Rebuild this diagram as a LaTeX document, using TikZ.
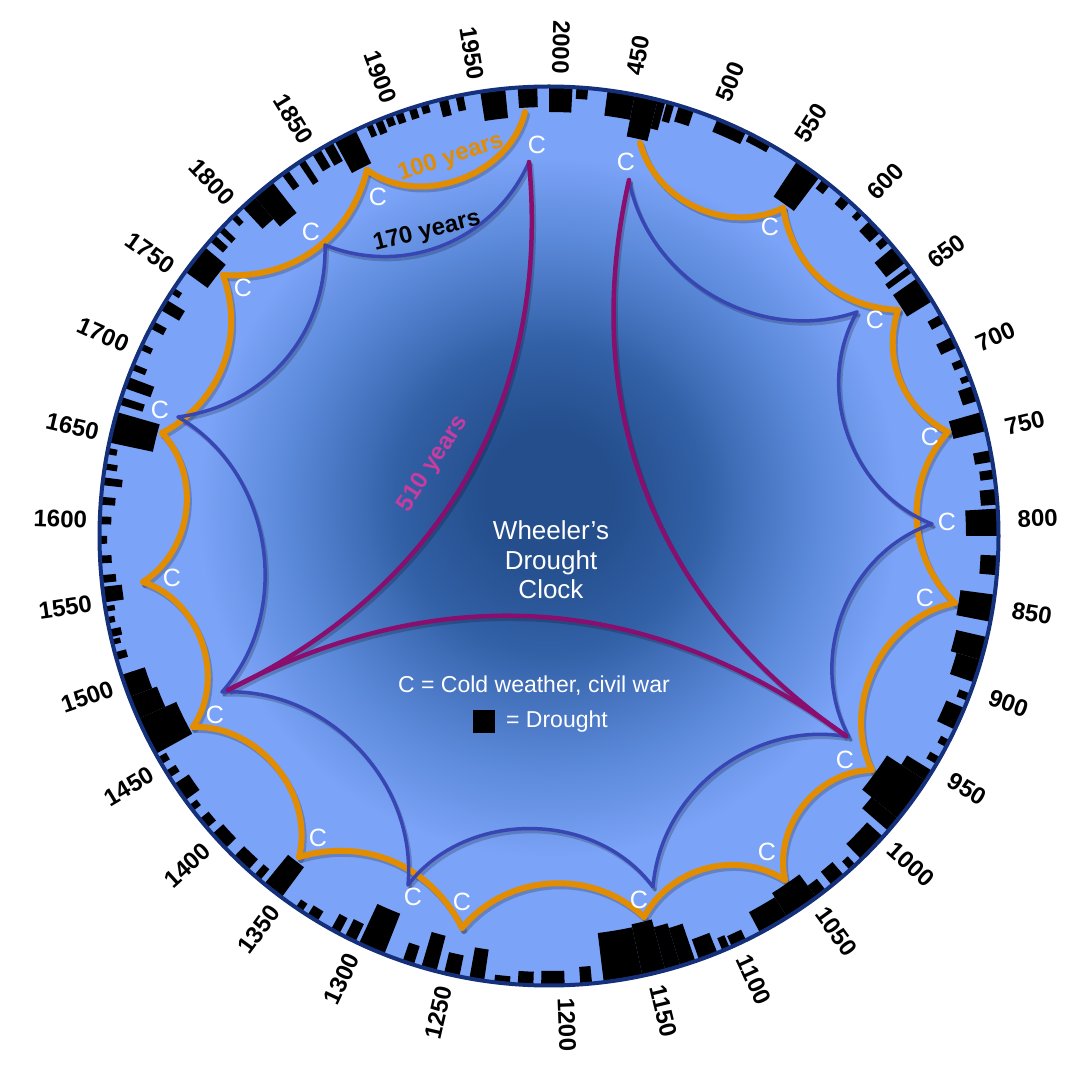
\documentclass[tikz,border=0pt]{standalone}
\usepackage{fontspec}
\setmainfont{Liberation Sans}
\usetikzlibrary{calc}
\definecolor{cdark}{RGB}{36,78,140}
\definecolor{cdarkb}{RGB}{50,96,166}
\definecolor{cmid}{RGB}{90,136,216}
\definecolor{clight}{RGB}{123,163,247}
\definecolor{corange}{RGB}{226,140,0}
\definecolor{cblue}{RGB}{55,70,178}
\definecolor{cpurple}{RGB}{138,14,110}
\definecolor{cpink}{RGB}{200,60,160}
\definecolor{cnavy}{RGB}{20,48,122}
\pgfdeclareradialshading{clockbg}{\pgfpoint{0bp}{2.6bp}}{color(0bp)=(cdark); color(3.5bp)=(cdark); color(8.5bp)=(cdarkb); color(14.5bp)=(cmid); color(19.5bp)=(clight); color(50bp)=(clight)}
\tikzset{
  yearlab/.style={font=\fontsize{24}{24}\selectfont\bfseries, inner sep=0pt},
  clab/.style={font=\fontsize{25}{25}\selectfont, text=white, inner sep=0pt},
  oline/.style={draw=corange, line width=6pt, line cap=round},
  bline/.style={draw=cblue, line width=3.5pt, line cap=round},
  pline/.style={draw=cpurple, line width=4.5pt, line cap=round},
  shline/.style={draw=black, draw opacity=0.2},
  wtitle/.style={font=\fontsize{26}{26}\selectfont, text=white, inner sep=0pt, anchor=base},
  wleg/.style={font=\fontsize{23}{23}\selectfont, text=white, inner sep=0pt, anchor=base},
  arclab/.style={font=\fontsize{24}{24}\selectfont\bfseries, inner sep=0pt},
}
\begin{document}
\begin{tikzpicture}[x=1pt,y=1pt]
\useasboundingbox (0,0) rectangle (1088,1080);
\fill[white] (0,0) rectangle (1088,1080);
\begin{scope}[shift={(549,544)}]
  \shade[shading=clockbg] (0,0) circle[radius=449];
  \foreach \a/\b/\d in {94/91.5/21, 90/87/26, 86.5/85/12, 82.5/79/26, 79/76/43, 76/75/30, 74.8/73.8/20, 73.2/71.2/17, 68/64/14, 63.5/60.5/9,
    56.5/53/43, 52.5/51.3/12, 49.3/48/12, 46.5/45.7/10, 44.5/42.5/15, 41.8/40.8/12, 40/37.5/25, 36.8/36/30, 35/31.5/30, 29.5/28.3/15, 26.3/24.8/18,
    23.2/22.2/12, 21/20.2/10, 19.5/17.5/16, 16/13.5/34, 11/9.5/18, 8.5/7.3/15, 6/4/17, 3.5/0/33, -2.5/-5/18, -7.5/-11/35, -13/-16/32,
    -16/-19/26, -20.5/-21.5/12, -22.5/-25.5/20, -27/-28/10, -29.5/-30.5/12, -31.5/-33/30, -33/-39/47, -39/-41/35, -42/-46/22, -47/-48/12, -49/-51/18, -52/-53.5/15, -53.5/-58/29,
    -58/-62/24, -64/-66/12, -66.3/-67.3/14, -68/-70.5/22, -71/-73/40, -73/-75/45, -75/-78/53, -78/-83/50, -84.5/-86/18, -88/-91/15,
    -92/-94/14, -95/-97/8, -98.3/-100.2/32, -101.5/-103.5/22, -104.5/-106.5/37, -107.5/-109/20, -111.5/-115/44, -115.5/-117/20, -117.8/-119/18, -121/-122.5/12,
    -123.3/-124.3/10, -126.5/-129.3/38, -130/-131/15, -132/-134.5/15, -136/-138.5/15, -139.5/-141/12, -142.3/-143.2/10, -144/-146.5/18, -147.5/-148.5/12, -149.5/-150.5/10, -151/-156/42, -156/-159/30,
    -159/-162/25, -164/-165/12, -166/-166.7/9, -167/-168/12, -168.8/-169.6/8, -170.3/-171/10, -171.5/-173.5/20, -174/-175/15, -176.5/-177.5/12, -179/-180/8, 178.5/177.5/12, 176/175/15,
    173.5/172.5/20, 171.5/170.7/13, 169.5/168.7/10, 168/164/45, 163/162/25, 160.8/159.3/28, 158.3/157.5/15, 155.5/154.7/12, 152.5/151.5/15, 149.8/148.3/22, 147.3/146.5/10,
    144/140/28, 139/138/18, 137.3/136.5/18, 135/134.2/12, 133/131/30, 131/128/40, 126.5/125.5/20, 123.9/123/27, 121.8/120.6/21, 120.1/118.8/22,
    118.5/115.5/37, 114/113.2/14, 112.8/111.8/15, 111.4/110.4/11, 110/109/12, 108.2/107.2/12, 106.6/105.6/10, 104.2/103/18, 102/101/16, 98.8/95.6/30}
    \fill[black] (\a:450) arc[start angle=\a, end angle=\b, radius=450] -- (\b:{450-\d}) arc[start angle=\b, end angle=\a, radius={450-\d}] -- cycle;
  \draw[cnavy, line width=4pt] (0,0) circle[radius=449.5];
  \foreach \yr/\ang/\rot in {450/79.5/79.5, 500/68.2/68.2, 550/57.6/57.6, 600/46.5/46.5, 650/35.6/35.6, 700/24.1/24.1, 750/13.4/13.4, 800/2.1/2.1,
    850/-9.1/-9.1, 900/-20/-20, 950/-31.2/-31.2, 1000/-42.2/-42.2, 1050/-54/-54, 1100/-65.2/-65.2, 1150/-76.4/-76.4, 1200/-87.9/-87.9,
    1250/256.9/76.9, 1300/244.9/64.9, 1350/233.6/53.6, 1400/222.3/42.3, 1450/210.8/30.8, 1500/199.2/19.2, 1550/188.4/8.4, 1600/178/-2,
    1650/167/-13, 1700/155.7/-24.3, 1750/144.6/-35.4, 1800/133.6/-46.4, 1850/121.5/-58.5, 1900/110.2/-69.8, 1950/99.1/-80.9, 2000/88.6/-91.4}
    \node[yearlab, rotate=\rot] (y\yr) at (\ang:489) {\yr};
\end{scope}
% cusp coordinates
\coordinate (P0) at (640,937);
\coordinate (P1) at (783,872);
\coordinate (P2) at (898,770);
\coordinate (P3) at (948,648);
\coordinate (P5) at (955,477);
\coordinate (P6) at (872,310);
\coordinate (P7) at (785,200);
\coordinate (P8) at (644,163);
\coordinate (P9) at (462,152);
\coordinate (P10) at (299,223);
\coordinate (P11) at (193,353);
\coordinate (P12) at (143,498);
\coordinate (P13) at (162,647);
\coordinate (P14) at (223,805);
\coordinate (P15) at (367,910);
\coordinate (P16) at (525,968);
\coordinate (B0) at (629,900);
\coordinate (B1) at (857,768);
\coordinate (B2) at (932,556);
\coordinate (B3) at (849,343);
\coordinate (B4) at (653,193);
\coordinate (B5) at (408,195);
\coordinate (B6) at (222,388);
\coordinate (B7) at (178,663);
\coordinate (B8) at (325,835);
\coordinate (B9) at (529,918);
\coordinate (Q6) at (228,390);
\coordinate (Q3) at (846,344);
% soft shadows of the curves
\begin{scope}[transform canvas={shift={(2,-3)}}]
  \foreach \a/\b/\bb in {P0/P1/50,P1/P2/39,P2/P3/40,P3/P5/44,P5/P6/53,P6/P7/51,P7/P8/47,P8/P9/47,P9/P10/40,P10/P11/53,P11/P12/53,P12/P13/50,P13/P14/41,P14/P15/40,P15/P16/56}
    \draw[oline, shline] (\a) to[bend right=\bb] (\b);
  \foreach \a/\b/\bb in {B0/B1/49,B1/B2/49,B2/B3/50,B3/B4/48,B4/B5/53,B5/B6/49,B6/B7/51,B7/B8/42,B8/B9/44}
    \draw[bline, shline] (\a) to[bend right=\bb] (\b);
  \draw[pline, shline] (B9) to[bend left=35] (Q6) to[bend left=32] (Q3) to[bend left=34] (B0);
\end{scope}
% orange 100-year arcs
\foreach \a/\b/\bb in {P0/P1/50,P1/P2/39,P2/P3/40,P3/P5/44,P5/P6/53,P6/P7/51,P7/P8/47,P8/P9/47,P9/P10/40,P10/P11/53,P11/P12/53,P12/P13/50,P13/P14/41,P14/P15/40,P15/P16/56}
  \draw[oline] (\a) to[bend right=\bb] (\b);
% blue 170-year arcs
\foreach \a/\b/\bb in {B0/B1/49,B1/B2/49,B2/B3/50,B3/B4/48,B4/B5/53,B5/B6/49,B6/B7/51,B7/B8/42,B8/B9/44}
  \draw[bline] (\a) to[bend right=\bb] (\b);
% purple 510-year arcs
\draw[pline] (B9) to[bend left=35] (Q6);
\draw[pline] (Q6) to[bend left=32] (Q3);
\draw[pline] (Q3) to[bend left=34] (B0);
% C labels
\foreach \n/\x/\y in {1/537/935, 2/626/918, 3/378/883, 4/311/848, 5/243/792, 6/160/670, 7/172/502, 8/215/365, 9/318/242, 10/413/183,
  11/462/178, 12/639/180, 13/767/228, 14/845/320, 15/925/482, 16/947/558, 17/930/643, 18/875/760, 19/770/853}{
  \node[clab] (c\n) at (\x,\y) {C};
}
% arc labels
\node[arclab, text=corange, rotate=18] (l100) at (451,922) {100 years};
\node[arclab, text=black, rotate=14] (l170) at (427,848) {170 years};
\node[arclab, text=cpink, rotate=57] (l510) at (433,616) {510 years};
% title
\node[wtitle] (t1) at (551,540) {Wheeler’s};
\node[wtitle] (t2) at (551,510) {Drought};
\node[wtitle] (t3) at (551,481) {Clock};
% legend
\node[wleg] (leg1) at (534,387) {C = Cold weather, civil war};
\node[fill=black, minimum width=22pt, minimum height=23pt, inner sep=0pt] (sq) at (484,358.5) {};
\node[wleg] (leg2) at (557,352) {= Drought};
\end{tikzpicture}
\end{document}
